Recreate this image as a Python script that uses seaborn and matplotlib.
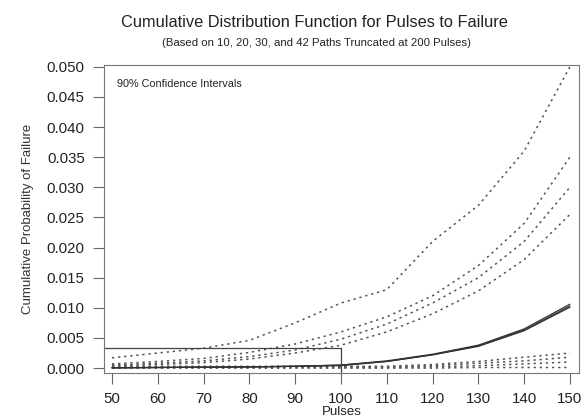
import matplotlib
matplotlib.use('Agg')
import matplotlib.pyplot as plt
import pandas as pd
import seaborn as sns

pulses = [50, 60, 70, 80, 90, 100, 110, 120, 130, 140, 150]

# upper 90% bounds (10, 20, 30, 42 paths)
upper_10 = [0.0017, 0.0025, 0.0033, 0.0046, 0.0075, 0.0108, 0.0130, 0.0210, 0.0270, 0.0360, 0.0500]
upper_20 = [0.0007, 0.0011, 0.0016, 0.0026, 0.0040, 0.0060, 0.0085, 0.0120, 0.0170, 0.0240, 0.0350]
upper_30 = [0.0005, 0.0008, 0.0012, 0.0019, 0.0030, 0.0048, 0.0073, 0.0108, 0.0150, 0.0210, 0.0300]
upper_42 = [0.0004, 0.0006, 0.0009, 0.0015, 0.0025, 0.0038, 0.0060, 0.0090, 0.0128, 0.0180, 0.0255]

# point estimates
est_10 = [0.00005, 0.0001, 0.00015, 0.0002, 0.0003, 0.0005, 0.0012, 0.0023, 0.0038, 0.0065, 0.0106]
est_20 = [0.00005, 0.0001, 0.00015, 0.0002, 0.0003, 0.0005, 0.0011, 0.0022, 0.0037, 0.0063, 0.0103]
est_30 = [0.00005, 0.0001, 0.00015, 0.0002, 0.0003, 0.0004, 0.0011, 0.0022, 0.0036, 0.0062, 0.0101]

# lower 90% bounds
lower_10 = [0.0003, 0.0003, 0.0003, 0.0003, 0.0003, 0.0003, 0.0003, 0.0006, 0.0011, 0.0018, 0.0025]
lower_20 = [0.0002, 0.0002, 0.0002, 0.0002, 0.0002, 0.0002, 0.0002, 0.0004, 0.0008, 0.0012, 0.0018]
lower_30 = [0.0001, 0.0001, 0.0001, 0.0001, 0.0001, 0.0001, 0.0001, 0.0002, 0.0004, 0.0007, 0.0010]
lower_42 = [0.0000, 0.0000, 0.0000, 0.0000, 0.0000, 0.0000, 0.0000, 0.0000, 0.0001, 0.0001, 0.0001]

# reference box corner
ref_pulse = 100
ref_prob = 0.0033

dotted = {'u10': upper_10, 'u20': upper_20, 'u30': upper_30, 'u42': upper_42,
          'l10': lower_10, 'l20': lower_20, 'l30': lower_30, 'l42': lower_42}
solid = {'e10': est_10, 'e20': est_20, 'e30': est_30}

sns.set_style('ticks')
plt.rcParams['font.family'] = ['Liberation Sans', 'DejaVu Sans']

fig = plt.figure(figsize=(5.82, 4.19), dpi=100)
ax = fig.add_axes([0.179, 0.110, 0.816, 0.735])

for name, vals in dotted.items():
    df = pd.DataFrame({'Pulses': pulses, 'p': vals})
    sns.lineplot(data=df, x='Pulses', y='p', ax=ax, color='#555555',
                 linestyle=(0, (1.5, 2.5)), linewidth=1.1)
for name, vals in solid.items():
    df = pd.DataFrame({'Pulses': pulses, 'p': vals})
    sns.lineplot(data=df, x='Pulses', y='p', ax=ax, color='#333333', linewidth=0.9)

ax.plot([40, ref_pulse], [ref_prob, ref_prob], color='#444444', lw=0.9)
ax.plot([ref_pulse, ref_pulse], [ref_prob, -0.01], color='#444444', lw=0.9)

ax.set_xlim(48.3, 152)
ax.set_ylim(-0.0008, 0.0503)
ax.set_xticks(range(50, 151, 10))
ax.set_yticks([i * 0.005 for i in range(11)])
ax.set_yticklabels([f'{i * 0.005:.3f}' for i in range(11)])
ax.tick_params(direction='out', length=8, width=0.8, colors='#666666',
               labelcolor='#222222', labelsize=10.8, pad=6)
for s in ax.spines.values():
    s.set_color('#777777')
    s.set_linewidth(0.8)

ax.set_xlabel('Pulses', fontsize=9.5, color='#222222', labelpad=0)
ax.set_ylabel('Cumulative Probability of Failure', fontsize=9.5, color='#333333', labelpad=9)
ax.text(0.027, 0.955, '90% Confidence Intervals', transform=ax.transAxes,
        fontsize=7.8, color='#222222', va='top')

fig.text(0.54, 0.947, 'Cumulative Distribution Function for Pulses to Failure',
         ha='center', va='center', fontsize=11.8, color='#222222')
fig.text(0.543, 0.897, '(Based on 10, 20, 30, and 42 Paths Truncated at 200 Pulses)',
         ha='center', va='center', fontsize=8.2, color='#222222')

fig.savefig('out.png', dpi=100)
